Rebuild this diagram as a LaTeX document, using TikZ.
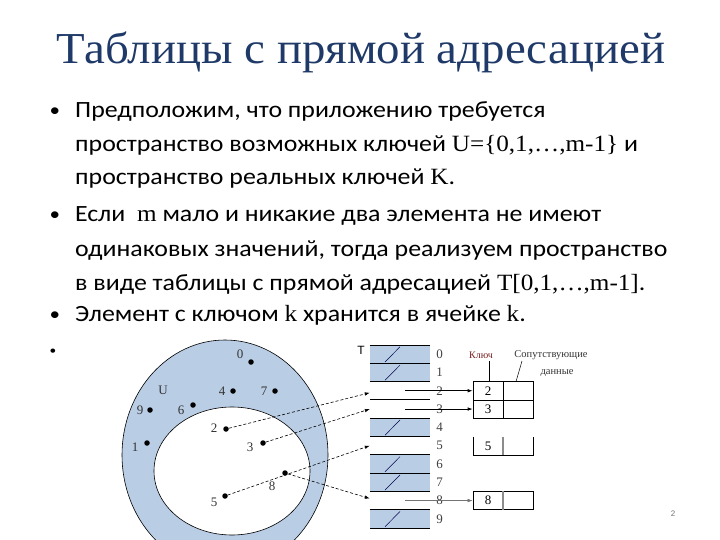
\documentclass[tikz,border=0pt]{standalone}
\usepackage{fontspec}
\setmainfont{Carlito}[FakeStretch=1.11]
\newfontfamily\serifm{Liberation Serif}
\newfontfamily\serifw{Liberation Serif}[FakeStretch=1.08]
\newfontfamily\titlefont{Liberation Serif}[FakeStretch=1.06]
\newfontfamily\sansa{Liberation Sans}
\usetikzlibrary{arrows.meta}
\definecolor{titleblue}{RGB}{31,58,104}
\definecolor{ublue}{RGB}{185,205,229}
\definecolor{keyred}{RGB}{120,30,30}
\begin{document}
\begin{tikzpicture}[x=1pt,y=-1pt,
  bodytext/.style={anchor=base west, font=\fontsize{23.3}{28}\selectfont, inner sep=0pt},
  bulletmark/.style={anchor=base, font=\fontsize{19}{24}\selectfont, inner sep=0pt},
  dot/.style={circle, fill=black, inner sep=0pt, minimum size=5.5pt},
  numlab/.style={font=\serifm\fontsize{13}{15}\selectfont, inner sep=0pt, text=black!80},
  rowcell/.style={rectangle, minimum width=60pt, minimum height=18.3pt, inner sep=0pt},
  bluerow/.style={rowcell, fill=ublue},
  idxlab/.style={anchor=west, font=\serifm\fontsize{13}{15}\selectfont, inner sep=0pt, text=black!75},
  keybox/.style={rectangle, draw=black, line width=0.6pt, minimum width=30pt, minimum height=18.3pt, inner sep=0pt, font=\serifm\fontsize{13}{15}\selectfont},
  dasharrow/.style={densely dashed, line width=0.6pt, -{Latex[length=5pt,width=3.5pt]}},
  rowarrow/.style={line width=0.8pt, -{Latex[length=5pt,width=3.5pt]}},
  grayarrow/.style={line width=0.5pt, black!55, -{Latex[length=5pt,width=3.5pt]}},
  slash/.style={line width=0.5pt, black!70!blue},
  thickdiv/.style={line width=1.6pt, black!45}
]
\useasboundingbox (0,0) rectangle (720,540);

% title
\node[anchor=base, font=\titlefont\fontsize{44.2}{50}\selectfont, text=titleblue, inner sep=0pt] (title) at (361,64) {Таблицы с прямой адресацией};

% bullets
\node[bulletmark] (b1) at (55,117) {•};
\node[bodytext] (l1) at (75,118) {Предположим, что приложению требуется};
\node[bodytext] (l2) at (75,152) {пространство возможных ключей {\serifw U=\{0,1,…,m-1\}} и};
\node[bodytext] (l3) at (75,185) {пространство реальных ключей {\serifw K}.};
\node[bulletmark] (b2) at (55,221) {•};
\node[bodytext] (l4) at (75,222) {Если \ {\serifw m} мало и никакие два элемента не имеют};
\node[bodytext] (l5) at (75,256) {одинаковых значений, тогда реализуем пространство};
\node[bodytext] (l6) at (75,290) {в виде таблицы с прямой адресацией {\serifw T[0,1,…,m-1]}.};
\node[bulletmark] (b3) at (55,320) {•};
\node[bodytext] (l7) at (75,321) {Элемент с ключом {\serifw k} хранится в ячейке {\serifw k}.};
\node[bulletmark, font=\fontsize{12}{14}\selectfont] (b4) at (53,354) {•};

% universe
\begin{scope}
\clip (0,0) rectangle (720,540);
\draw[fill=ublue, line width=0.6pt] (225,455) ellipse [x radius=103, y radius=115];
\draw[fill=white, line width=0.6pt] (232,471) ellipse [x radius=78, y radius=64];
\end{scope}
\node[numlab] (U) at (163,390) {U};

\node[dot] (k0) at (251,362) {};
\node[numlab] (t0) at (240,354) {0};
\node[dot] (k4) at (233,391) {};
\node[numlab] (t4) at (222,391) {4};
\node[dot] (k7) at (275,391) {};
\node[numlab] (t7) at (264,391) {7};
\node[dot] (k9) at (150,410) {};
\node[numlab] (t9) at (140,410) {9};
\node[dot] (k6) at (193,405) {};
\node[numlab] (t6) at (181,410) {6};
\node[dot] (k1) at (147,443) {};
\node[numlab] (t1) at (135,447) {1};
\node[dot] (k2) at (226,429) {};
\node[numlab] (t2) at (214,428) {2};
\node[dot] (k3) at (263,443) {};
\node[numlab] (t3) at (250,447) {3};
\node[dot] (k8) at (285,473) {};
\node[numlab] (t8) at (272,486) {8};
\node[dot] (k5) at (225,496) {};
\node[numlab] (t5) at (214,502) {5};

% table T
\node[anchor=center, font=\sansa\fontsize{12}{14}\selectfont, inner sep=0pt] (T) at (361,350) {T};
\node[bluerow] (r0) at (400,354.15) {};
\node[bluerow] (r1) at (400,372.45) {};
\node[rowcell] (r2) at (400,390.75) {};
\node[rowcell] (r3) at (400,409.05) {};
\node[bluerow] (r4) at (400,427.35) {};
\node[rowcell] (r5) at (400,445.65) {};
\node[bluerow] (r6) at (400,463.95) {};
\node[bluerow] (r7) at (400,482.25) {};
\node[rowcell] (r8) at (400,500.55) {};
\node[bluerow] (r9) at (400,518.85) {};
\foreach \i in {0,...,9} {
  \draw[line width=0.6pt] (r\i.north west) -- (r\i.north east);
  \node[idxlab] (ix\i) at ([xshift=6pt]r\i.east) {\i};
}
\draw[line width=0.6pt] (r9.south west) -- (r9.south east);
\foreach \i in {0,1,4,6,7,9} {
  \draw[slash] ([xshift=-15pt,yshift=1.5pt]r\i.south) -- ([xshift=0pt,yshift=-2pt]r\i.north);
}

% key boxes
\node[keybox] (k2k) at (488,390.75) {2};
\node[keybox, anchor=west] (k2d) at (k2k.east) {};
\node[keybox] (k3k) at (488,409.05) {3};
\node[keybox, anchor=west] (k3d) at (k3k.east) {};
\coordinate (b5a) at (473,436.5);
\coordinate (b5b) at (473,454.8);
\coordinate (b5c) at (533,454.8);
\coordinate (b5d) at (533,436.5);
\draw[line width=0.6pt] (b5a) -- (b5b) -- (b5c) -- (b5d);
\draw[thickdiv] (503,436.5) -- (503,454.8);
\node[font=\serifm\fontsize{13}{15}\selectfont, inner sep=0pt] (k5k) at (488,446) {5};
\node[keybox, minimum width=60pt] (k8b) at (503,500.55) {};
\draw[thickdiv] (k8b.north) -- (k8b.south);
\node[font=\serifm\fontsize{13}{15}\selectfont, inner sep=0pt] (k8k) at (488,500.55) {8};

% header labels
\node[font=\serifm\fontsize{10}{12}\selectfont, text=keyred, inner sep=0pt] (kl) at (481,355) {Ключ};
\node[font=\serifm\fontsize{10.5}{12}\selectfont, text=black!80, inner sep=0pt] (sl) at (551,355) {Сопутствующие};
\node[font=\serifm\fontsize{10.5}{12}\selectfont, text=black!80, inner sep=0pt] (sl2) at (557,373) {данные};
\draw[line width=0.5pt] (489,361) -- (k2k.north -| 489,0);
\draw[line width=0.5pt] (522,361) -- (516,381.6);

% row arrows
\draw[rowarrow] ([xshift=5pt]r2.center) -- (k2k.west);
\draw[rowarrow] ([xshift=5pt]r3.center) -- (k3k.west);
\draw[grayarrow] ([xshift=5pt]r8.center) -- (k8b.west);

% key arrows
\draw[dasharrow] (k2) -- ([yshift=-2pt]r2.west);
\draw[dasharrow] (k3) -- (r3.west);
\draw[dasharrow] (k5) -- (r5.west);
\draw[dasharrow] (k8) -- ([yshift=2pt]r8.west);

% page number
\node[font=\sansa\fontsize{8}{10}\selectfont, text=black!55, inner sep=0pt] (pg) at (673,514) {2};
\end{tikzpicture}
\end{document}
